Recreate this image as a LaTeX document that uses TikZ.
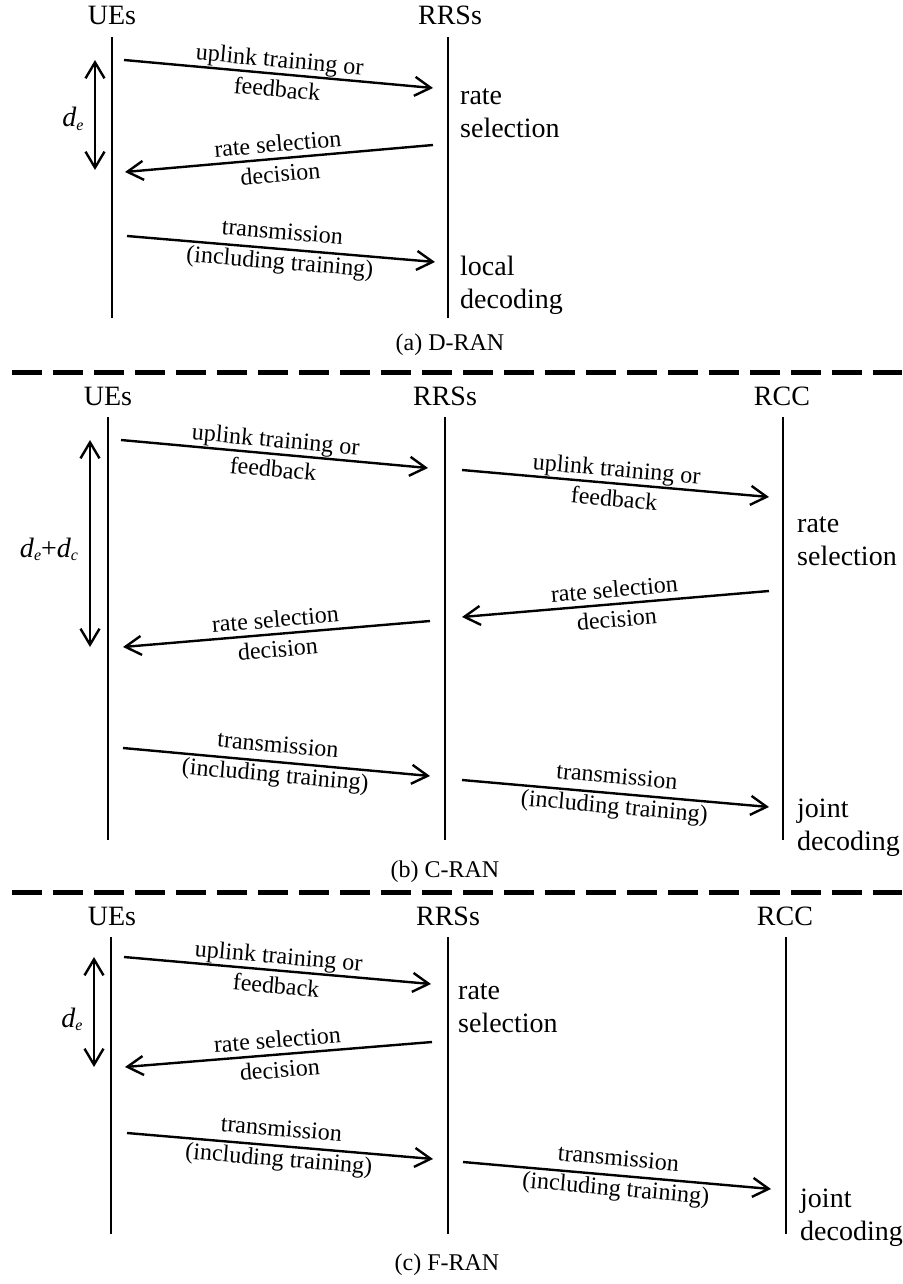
\documentclass[tikz,border=0pt]{standalone}
\usepackage{fontspec}
\setmainfont{Liberation Serif}
\usetikzlibrary{arrows.meta}
\newcommand{\dly}[1]{\textit{d}\raisebox{-0.25ex}{\fontsize{16}{16}\selectfont\textit{#1}}}

\begin{document}
\begin{tikzpicture}[x=1pt,y=-1pt,>={Straight Barb[length=16pt,width=19pt]},
    head/.style={font=\fontsize{28}{30}\selectfont, anchor=base, inner sep=0pt},
    side/.style={font=\fontsize{28}{33}\selectfont, anchor=base west, align=left, inner sep=0pt},
    caption/.style={font=\fontsize{24}{26}\selectfont, anchor=base, inner sep=0pt},
    life/.style={line width=2.8pt},
    msg/.style={->, line width=2.4pt},
    lbl/.style={sloped, align=center, inner sep=0pt, font=\fontsize{24}{30}\selectfont},
    sep/.style={line width=5pt, dash pattern=on 30pt off 11pt}]
    \useasboundingbox (0,0) rectangle (902,1284);

    % (a) D-RAN
    \node (ueA) [head] at (112,25) {UEs};
    \node (rrsA) [head] at (450,25) {RRSs};
    \draw[life] (112,37) -- (112,318);
    \draw[life] (448,37) -- (448,318);
    \coordinate (a1s) at (124,60);  \coordinate (a1e) at (433,88);
    \coordinate (a2s) at (433,145); \coordinate (a2e) at (125,172);
    \coordinate (a3s) at (127,236); \coordinate (a3e) at (435,262);
    \draw[msg] (a1s) -- node[lbl]{uplink training or\\feedback} (a1e);
    \draw[msg] (a2s) -- node[lbl]{rate selection\\decision} (a2e);
    \draw[msg] (a3s) -- node[lbl]{transmission\\(including training)} (a3e);
    \coordinate (dAt) at (95,60); \coordinate (dAb) at (95,170);
    \draw[<->, line width=2.4pt] (dAt) -- (dAb);
    \node (dAl) [head] at (73,127) {\dly{e}};
    \node (selA) [side] at (460,138) {rate\\selection};
    \node (decA) [side] at (460,308) {local\\decoding};
    \node (capA) [caption] at (450,350) {(a) D-RAN};
    \draw[sep] (12,372) -- (902,372);

    % (b) C-RAN
    \node (ueB) [head] at (108,405) {UEs};
    \node (rrsB) [head] at (445,405) {RRSs};
    \node (rccB) [head] at (782,405) {RCC};
    \draw[life] (108,417) -- (108,840);
    \draw[life] (445,417) -- (445,840);
    \draw[life] (783,417) -- (783,840);
    \coordinate (b1s) at (121,440); \coordinate (b1e) at (428,468);
    \coordinate (b2s) at (462,470); \coordinate (b2e) at (769,497);
    \coordinate (b3s) at (769,591); \coordinate (b3e) at (462,617);
    \coordinate (b4s) at (430,621); \coordinate (b4e) at (123,647);
    \coordinate (b5s) at (123,748); \coordinate (b5e) at (430,776);
    \coordinate (b6s) at (462,780); \coordinate (b6e) at (769,807);
    \draw[msg] (b1s) -- node[lbl]{uplink training or\\feedback} (b1e);
    \draw[msg] (b2s) -- node[lbl]{uplink training or\\feedback} (b2e);
    \draw[msg] (b3s) -- node[lbl]{rate selection\\decision} (b3e);
    \draw[msg] (b4s) -- node[lbl]{rate selection\\decision} (b4e);
    \draw[msg] (b5s) -- node[lbl]{transmission\\(including training)} (b5e);
    \draw[msg] (b6s) -- node[lbl]{transmission\\(including training)} (b6e);
    \coordinate (dBt) at (90,440); \coordinate (dBb) at (90,647);
    \draw[<->, line width=2.4pt] (dBt) -- (dBb);
    \node (dBl) [head] at (49,557) {\dly{e}+\dly{c}};
    \node (selB) [side] at (797,565) {rate\\selection};
    \node (decB) [side] at (797,850) {joint\\decoding};
    \node (capB) [caption] at (445,877) {(b) C-RAN};
    \draw[sep] (12,892) -- (902,892);

    % (c) F-RAN
    \node (ueC) [head] at (112,925) {UEs};
    \node (rrsC) [head] at (448,925) {RRSs};
    \node (rccC) [head] at (785,925) {RCC};
    \draw[life] (111,937) -- (111,1234);
    \draw[life] (448,937) -- (448,1234);
    \draw[life] (786,937) -- (786,1234);
    \coordinate (c1s) at (124,957);  \coordinate (c1e) at (431,984);
    \coordinate (c2s) at (432,1042); \coordinate (c2e) at (125,1067);
    \coordinate (c3s) at (127,1133); \coordinate (c3e) at (433,1159);
    \coordinate (c4s) at (463,1162); \coordinate (c4e) at (771,1189);
    \draw[msg] (c1s) -- node[lbl]{uplink training or\\feedback} (c1e);
    \draw[msg] (c2s) -- node[lbl]{rate selection\\decision} (c2e);
    \draw[msg] (c3s) -- node[lbl]{transmission\\(including training)} (c3e);
    \draw[msg] (c4s) -- node[lbl]{transmission\\(including training)} (c4e);
    \coordinate (dCt) at (94,957); \coordinate (dCb) at (94,1067);
    \draw[<->, line width=2.4pt] (dCt) -- (dCb);
    \node (dCl) [head] at (72,1027) {\dly{e}};
    \node (selC) [side] at (458,1032) {rate\\selection};
    \node (decC) [side] at (800,1240) {joint\\decoding};
    \node (capC) [caption] at (447,1270) {(c) F-RAN};
\end{tikzpicture}
\end{document}
